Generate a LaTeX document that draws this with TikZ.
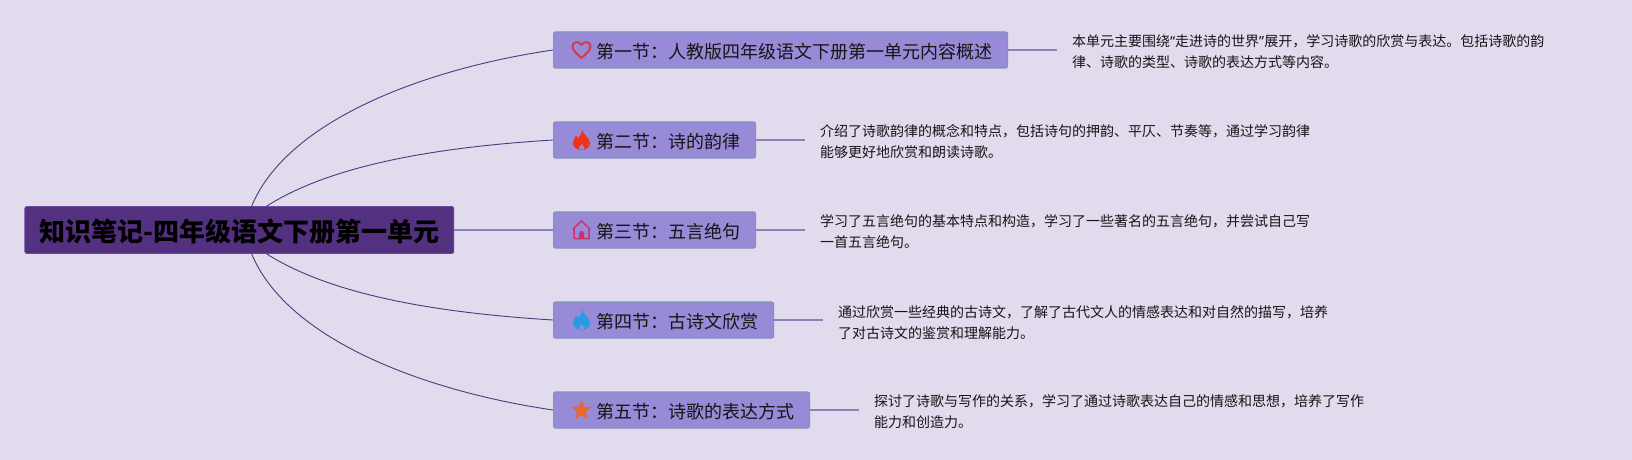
\documentclass[tikz,border=0pt]{standalone}
\usepackage{fontspec}
\setmainfont{Noto Sans CJK SC}
\newfontfamily\quotefont{Noto Sans}
\usetikzlibrary{calc}
\newcommand{\fwcolon}{\char"FF1A\relax}
\newcommand{\fwcomma}{\char"FF0C\relax}
\definecolor{bgcol}{HTML}{E2DAED}
\definecolor{rootcol}{HTML}{533080}
\definecolor{rootedge}{HTML}{6A4A9A}
\definecolor{boxcol}{HTML}{978AD6}
\definecolor{boxedge}{HTML}{7F93BB}
\definecolor{stubcol}{HTML}{8F80B8}
\definecolor{curvecol}{HTML}{4A3A80}
\definecolor{textcol}{HTML}{151515}
\definecolor{heartcol}{HTML}{D03A46}
\definecolor{redflame}{HTML}{F03219}
\definecolor{housecol}{HTML}{CE3068}
\definecolor{blueflame}{HTML}{289BE1}
\definecolor{starcol}{HTML}{E86832}
\tikzset{
  rootbox/.style={draw=rootedge, fill=rootcol, line width=0.8pt, rounded corners=2pt, minimum height=47pt, inner xsep=14.5pt, inner ysep=0pt, text height=24pt, text depth=1.2pt, font=\fontsize{26}{30}\bfseries\selectfont, text=black},
  secbox/.style={draw=boxedge, fill=boxcol, line width=1.2pt, rounded corners=2pt, minimum height=36pt, inner xsep=15pt, inner ysep=0pt, text height=18pt, text depth=1.4pt, anchor=west, font=\fontsize{18}{22}\selectfont, text=textcol},
  notetext/.style={anchor=west, align=left, inner sep=0pt, font=\fontsize{14}{21}\selectfont, text=textcol},
  stub/.style={draw=stubcol, line width=1.3pt},
  curve/.style={draw=curvecol, line width=0.9pt},
  flameicon/.pic={
    \fill[pic actions] (0.8,-10) .. controls (1.5,-5) and (8,-3) .. (8.5,3) .. controls (8.8,7.5) and (4,10) .. (0,10) .. controls (-4,10) and (-8.8,7.5) .. (-8.5,3) .. controls (-8.3,0) and (-6.5,-2) .. (-5.5,-4.5) .. controls (-4.5,-3.5) and (-4,-3) .. (-3.5,-2) .. controls (-1.5,-4) and (0.5,-7) .. (0.8,-10) -- cycle;
    \fill[boxcol] (0.5,4) .. controls (1,5.5) and (2.8,6.5) .. (2.8,8) .. controls (2.8,9.2) and (1.5,9.8) .. (0,9.8) .. controls (-1.5,9.8) and (-2.8,9.2) .. (-2.8,8) .. controls (-2.8,6.5) and (0,6) .. (0.5,4) -- cycle;
  },
}
\begin{document}
\begin{tikzpicture}[x=1pt, y=-1pt, line join=round]
    \useasboundingbox (0,0) rectangle (1632,460);
    \fill[bgcol] (0,0) rectangle (1632,460);
    \node[rootbox] (root) at (239.3,230) {知识笔记-四年级语文下册第一单元};
    % sections
    \node[secbox] (sec1) at (553,50) {\hspace*{28pt}第一节\fwcolon 人教版四年级语文下册第一单元内容概述};
    \node[secbox] (sec2) at (553,140) {\hspace*{28pt}第二节\fwcolon 诗的韵律};
    \node[secbox] (sec3) at (553,230) {\hspace*{28pt}第三节\fwcolon 五言绝句};
    \node[secbox] (sec4) at (553,320) {\hspace*{28pt}第四节\fwcolon 古诗文欣赏};
    \node[secbox] (sec5) at (553,410) {\hspace*{28pt}第五节\fwcolon 诗歌的表达方式};
    % notes
    \node[notetext] (note1) at (1072,51.5) {本单元主要围绕{\quotefont “}走进诗的世界{\quotefont ”}展开\fwcomma 学习诗歌的欣赏与表达。包括诗歌的韵\\律、诗歌的类型、诗歌的表达方式等内容。};
    \node[notetext] (note2) at (820,141.5) {介绍了诗歌韵律的概念和特点\fwcomma 包括诗句的押韵、平仄、节奏等\fwcomma 通过学习韵律\\能够更好地欣赏和朗读诗歌。};
    \node[notetext] (note3) at (820,231.5) {学习了五言绝句的基本特点和构造\fwcomma 学习了一些著名的五言绝句\fwcomma 并尝试自己写\\一首五言绝句。};
    \node[notetext] (note4) at (838,322.5) {通过欣赏一些经典的古诗文\fwcomma 了解了古代文人的情感表达和对自然的描写\fwcomma 培养\\了对古诗文的鉴赏和理解能力。};
    \node[notetext] (note5) at (874,411.5) {探讨了诗歌与写作的关系\fwcomma 学习了通过诗歌表达自己的情感和思想\fwcomma 培养了写作\\能力和创造力。};
    % connectors
    \draw[curve] ([xshift=12.4pt]root.north) .. controls +(35,-85) and +(-130,19) .. (sec1.west);
    \draw[curve] ([xshift=27.4pt]root.north) .. controls +(60,-38) and +(-130,8) .. (sec2.west);
    \draw[stub] (root.east) -- (sec3.west);
    \draw[curve] ([xshift=27.4pt]root.south) .. controls +(60,38) and +(-130,-8) .. (sec4.west);
    \draw[curve] ([xshift=12.4pt]root.south) .. controls +(35,85) and +(-130,-19) .. (sec5.west);
    \coordinate (stub1) at (1057,50);
    \coordinate (stub2) at (805,140);
    \coordinate (stub3) at (805,230);
    \coordinate (stub4) at (823,320);
    \coordinate (stub5) at (859,410);
    \draw[stub] (sec1.east) -- (stub1);
    \draw[stub] (sec2.east) -- (stub2);
    \draw[stub] (sec3.east) -- (stub3);
    \draw[stub] (sec4.east) -- (stub4);
    \draw[stub] (sec5.east) -- (stub5);
    % icons
    \draw[draw=heartcol, line width=1.9pt] (581.5,58) .. controls (576,53) and (572.5,50) .. (572.5,46.5) .. controls (572.5,41.5) and (579,40.5) .. (581.5,45) .. controls (584,40.5) and (590.5,41.5) .. (590.5,46.5) .. controls (590.5,50) and (587,53) .. (581.5,58) -- cycle;
    \pic[fill=redflame] at (581.5,140) {flameicon};
    \draw[draw=housecol, line width=1.5pt] (573,229) -- (581.5,221) -- (590,229) (574,228) -- (574,238.5) -- (589,238.5) -- (589,228);
    \fill[housecol] (579,238.5) -- (579,233.5) arc[start angle=180, end angle=360, radius=2.5] -- (584,238.5) -- cycle;
    \pic[fill=blueflame] at (581.5,320) {flameicon};
    \fill[starcol] (581.5,400) -- (584.3,406.6) -- (591.5,407.2) -- (586,411.9) -- (587.7,419) -- (581.5,415.2) -- (575.3,419) -- (577,411.9) -- (571.5,407.2) -- (578.7,406.6) -- cycle;
\end{tikzpicture}
\end{document}
